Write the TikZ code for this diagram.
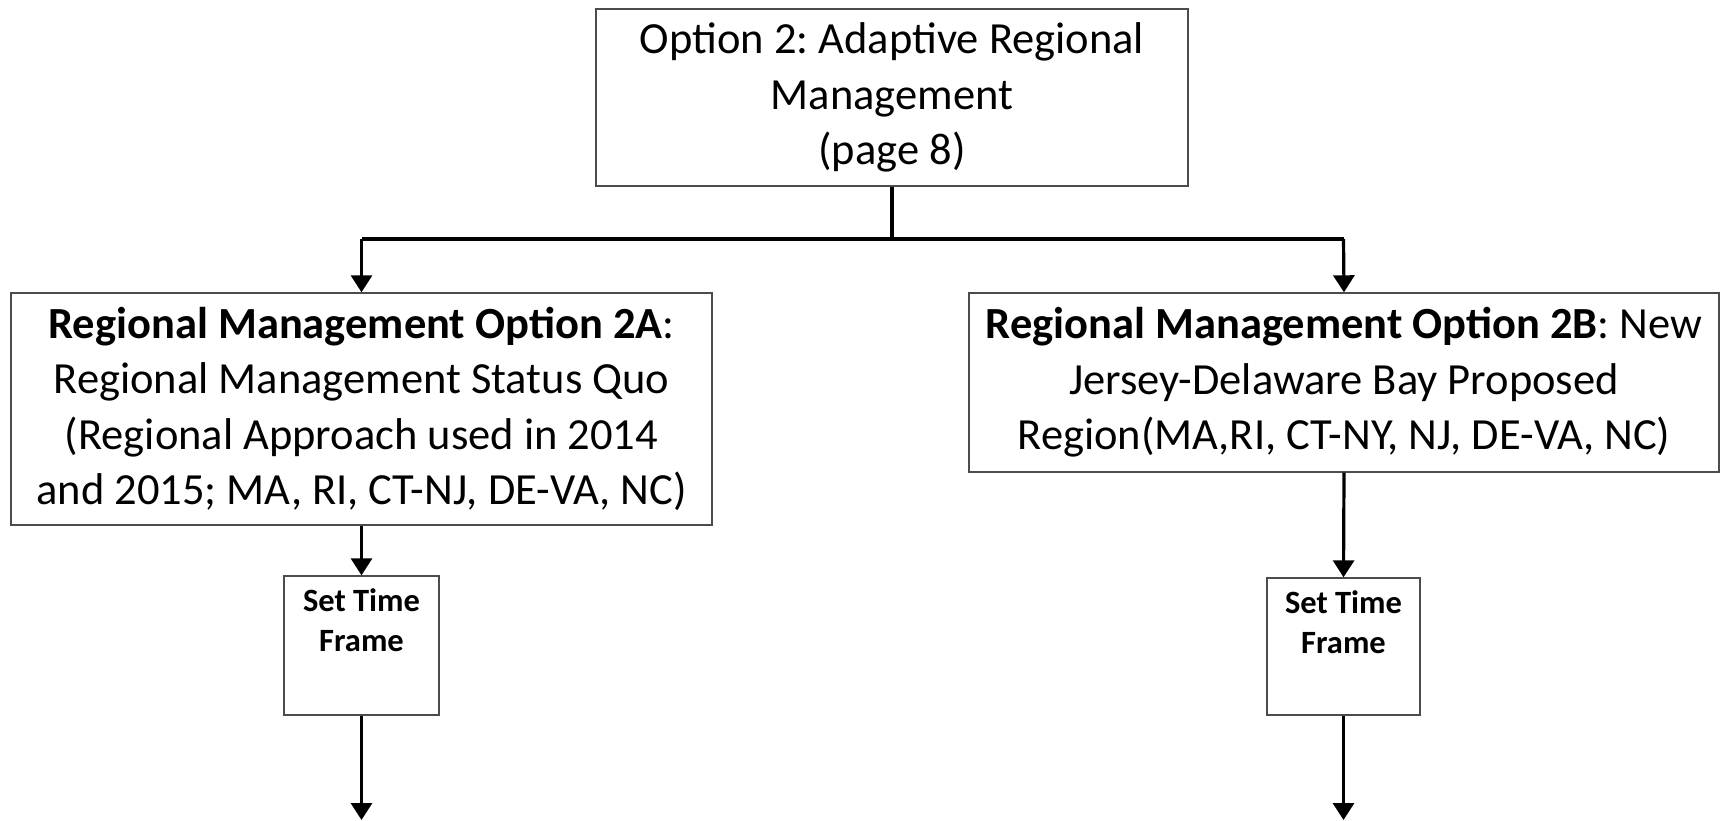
\documentclass[tikz,border=0pt]{standalone}
\usepackage{fontspec}
\setmainfont{Carlito}
\frenchspacing
\usetikzlibrary{arrows.meta}
\tikzset{
  box/.style={draw=black!70, line width=1.4pt, fill=white, align=center, inner sep=0pt,
    font=\fontsize{44.5}{55.5}\selectfont},
  smallbox/.style={draw=black!70, line width=1.4pt, fill=white, inner sep=0pt},
  smalltext/.style={align=center, inner sep=0pt, font=\fontsize{32.5}{40.5}\selectfont\bfseries},
  conn/.style={draw=black, line width=3.2pt, -{Triangle[length=17pt,width=21pt]}},
  plain/.style={draw=black, line width=3.2pt}
}
\begin{document}
\begin{tikzpicture}[x=1pt,y=-1pt]
\useasboundingbox (0,0) rectangle (1720,820);
\node[box, minimum width=592pt, minimum height=177pt] (top) at (892,97.5)
  {Option 2: Adaptive Regional\\Management\\(page 8)};
\node[box, minimum width=701pt, minimum height=232pt] (left) at (361.5,409)
  {\textbf{Regional Management Option 2A}:\\Regional Management Status Quo\\(Regional Approach used in 2014\\and 2015; MA, RI, CT-NJ, DE-VA, NC)};
\node[box, minimum width=750pt, minimum height=179pt] (right) at (1344,382.5)
  {\textbf{Regional Management Option 2B}: New\\Jersey-Delaware Bay Proposed\\Region(MA,RI, CT-NY, NJ, DE-VA, NC)};
\node[smallbox, minimum width=155pt, minimum height=139pt] (sl) at (361.5,645.5) {};
\node[smalltext, anchor=north] (slt) at ([yshift=-13pt]sl.north) {Set Time\\Frame};
\node[smallbox, minimum width=153pt, minimum height=137pt] (sr) at (1343.5,646.5) {};
\node[smalltext, anchor=north] (srt) at ([yshift=-13pt]sr.north) {Set Time\\Frame};
\coordinate (j) at (892,239);
\coordinate (jl) at (361.5,239);
\coordinate (jr) at (1343.5,239);
\coordinate (el) at (361.5,820);
\coordinate (er) at (1343.5,820);
\draw[plain] (top.south) -- (j);
\draw[plain] (jl) -- (jr);
\draw[conn] (jl) -- (left.north);
\draw[conn] (jr) -- (right.north);
\draw[conn] (left.south) -- (sl.north);
\draw[conn] (right.south) -- (sr.north);
\draw[conn] (sl.south) -- (el);
\draw[conn] (sr.south) -- (er);
\end{tikzpicture}
\end{document}
